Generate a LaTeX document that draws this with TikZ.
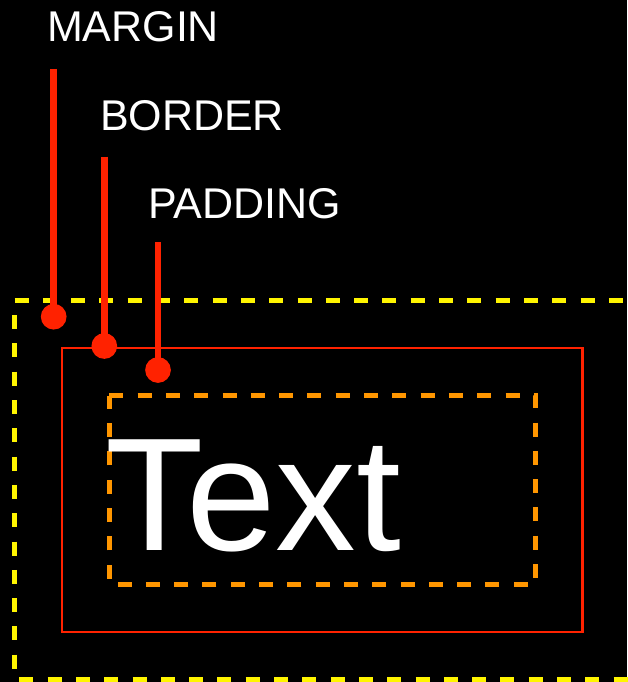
\documentclass[tikz,border=0pt]{standalone}
\usepackage{fontspec}
\setmainfont{Liberation Sans}
\definecolor{myred}{RGB}{255,34,0}
\definecolor{myorange}{RGB}{255,150,0}
\definecolor{myyellow}{RGB}{255,245,0}
\begin{document}
\begin{tikzpicture}[x=1pt,y=-1pt,
 lbl/.style={anchor=base west, inner sep=0pt, outer sep=0pt, text=white, font=\fontsize{43}{50}\selectfont},
 big/.style={anchor=base west, inner sep=0pt, outer sep=0pt, text=white, font=\fontsize{161}{190}\selectfont},
 dot/.style={circle, fill=myred, inner sep=0pt, minimum size=25.7pt},
 pointer/.style={draw=myred, line width=6.7pt},
 ydash/.style={draw=myyellow, line width=4.7pt, dash pattern=on 14pt off 14.3pt},
 odash/.style={draw=myorange, line width=4.5pt, dash pattern=on 14pt off 14.3pt},
 borderbox/.style={draw=myred, line width=2.2pt}]
\fill[black] (0,0) rectangle (627,682);
\useasboundingbox (0,0) rectangle (627,682);
% margin box (yellow, dashed)
\draw[ydash] (14.5,300.8) -- (660,300.8);
\draw[ydash, dash phase=14pt] (14.5,300.8) -- (14.5,700);
\draw[ydash, dash phase=23.5pt] (14.5,679.8) -- (660,679.8);
% border box (red)
\draw[borderbox] (62,348.3) rectangle (582.5,632);
% padding box (orange, dashed)
\draw[odash] (109.3,395.7) -- (535.3,395.7) -- (535.3,584.7) -- (109.3,584.7) -- cycle;
% text
\node[big] (txt) at (105.5,550) {Text};
% labels
\node[lbl] (margin) at (47,41.7) {MARGIN};
\node[lbl] (border) at (100,130.7) {BORDER};
\node[lbl] (padding) at (148,218.3) {PADDING};
% pointers
\coordinate (mtop) at (53.7,69);
\coordinate (btop) at (104.3,156.7);
\coordinate (ptop) at (158,242);
\node[dot] (mdot) at (53.7,316.7) {};
\node[dot] (bdot) at (104.3,346) {};
\node[dot] (pdot) at (158,370) {};
\draw[pointer] (mtop) -- (mdot.center);
\draw[pointer] (btop) -- (bdot.center);
\draw[pointer] (ptop) -- (pdot.center);
\end{tikzpicture}
\end{document}
